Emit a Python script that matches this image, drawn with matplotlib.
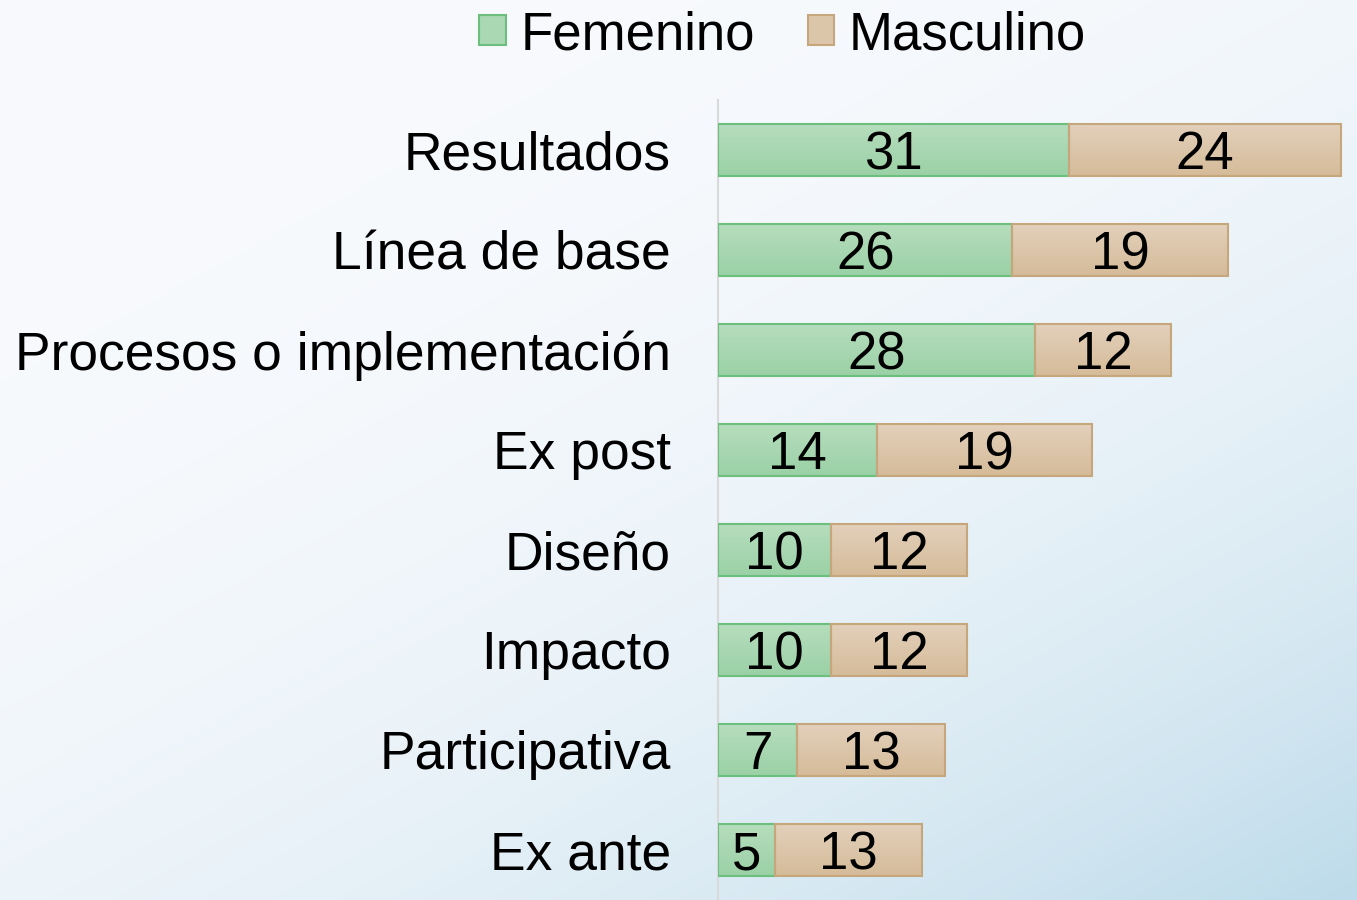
import matplotlib
matplotlib.use("Agg")
import matplotlib.pyplot as plt
import numpy as np
from matplotlib.patches import Patch

plt.rcParams['font.family'] = ['Liberation Sans', 'DejaVu Sans']

# data
categorias = ['Resultados', 'Línea de base', 'Procesos o implementación', 'Ex post',
              'Diseño', 'Impacto', 'Participativa', 'Ex ante']
femenino = [31, 26, 28, 14, 10, 10, 7, 5]
masculino = [24, 19, 12, 19, 12, 12, 13, 13]
series = ['Femenino', 'Masculino']

verde_top, verde_bot, verde_edge = '#b6ddbd', '#9bd1a6', '#6cbf7d'
tan_top, tan_bot, tan_edge = '#e3d0bb', '#d5bb99', '#c6a67c'


def hex2rgb(h):
    return np.array([int(h[i:i + 2], 16) for i in (1, 3, 5)]) / 255.0


def grad_bar(ax, x0, w, y, h, ctop, cbot, cedge):
    n = 40
    t = np.linspace(0, 1, n)[:, None]
    img = (1 - t) * hex2rgb(ctop) + t * hex2rgb(cbot)
    img = img[:, None, :]
    ax.imshow(img, extent=(x0, x0 + w, y + h / 2, y - h / 2), origin='upper',
              aspect='auto', zorder=2, interpolation='bilinear')
    ax.barh(y, w, left=x0, height=h, fill=False, edgecolor=cedge, linewidth=1.5, zorder=3)


fig = plt.figure(figsize=(13.57, 9), dpi=100)

# background gradient
bg = fig.add_axes([0, 0, 1, 1], zorder=-1)
xx, yy = np.meshgrid(np.linspace(0, 1, 300), np.linspace(0, 1, 200))
tt = (0.45 * xx + 0.55 * yy) ** 2.8
c0 = np.array([248, 250, 253]) / 255.0
c1 = np.array([189, 219, 234]) / 255.0
bgimg = (1 - tt)[..., None] * c0 + tt[..., None] * c1
bg.imshow(bgimg, aspect='auto', extent=(0, 1, 1, 0), interpolation='bilinear')
bg.set_xlim(0, 1)
bg.set_ylim(1, 0)
bg.axis('off')

ax = fig.add_axes([718 / 1357, 0, 1 - 718 / 1357, 800 / 900])
ax.patch.set_alpha(0)
h = 0.52
y = np.arange(len(categorias))
for i in range(len(categorias)):
    grad_bar(ax, 0, femenino[i], y[i], h, verde_top, verde_bot, verde_edge)
    grad_bar(ax, femenino[i], masculino[i], y[i], h, tan_top, tan_bot, tan_edge)
    ax.text(femenino[i] / 2, y[i] + 0.05, str(femenino[i]), ha='center', va='center',
            fontsize=38, zorder=4)
    ax.text(femenino[i] + masculino[i] / 2, y[i] + 0.05, str(masculino[i]), ha='center',
            va='center', fontsize=38, zorder=4)

ax.set_xlim(0, (1357 - 718) / 11.325)
ax.set_ylim(len(categorias) - 0.5, -0.5)
ax.set_yticks(y)
ax.set_yticklabels(categorias, fontsize=38.4)
ax.tick_params(axis='y', length=0, pad=34)
ax.set_xticks([])
for s in ['top', 'right', 'bottom']:
    ax.spines[s].set_visible(False)
ax.spines['left'].set_color('#d9d9d9')
ax.spines['left'].set_linewidth(1.5)

handles = [Patch(facecolor='#a9d8b3', edgecolor=verde_edge, linewidth=1.5),
           Patch(facecolor='#dcc6aa', edgecolor=tan_edge, linewidth=1.5)]
fig.legend(handles, series, loc='center', bbox_to_anchor=(0.5767, 0.961), ncol=2,
           fontsize=38, frameon=False, handlelength=0.5, handleheight=0.5,
           handletextpad=0.28, columnspacing=1.0, borderpad=0)

fig.savefig('out.png', dpi=100)
